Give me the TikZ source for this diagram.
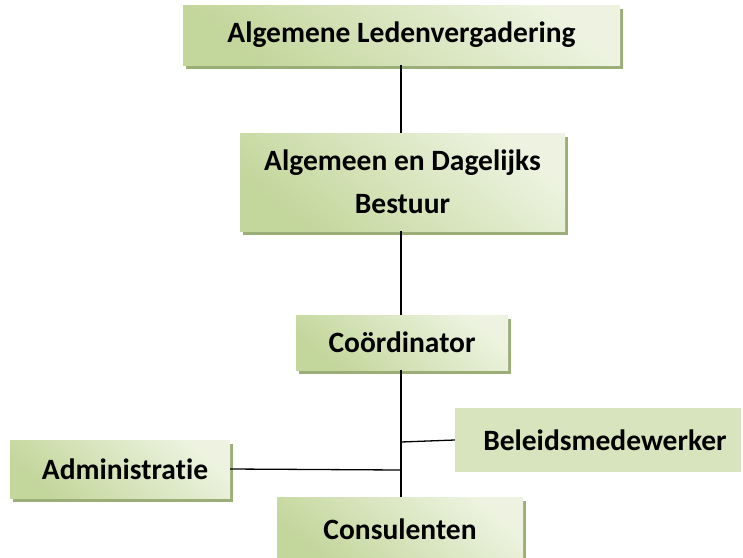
\documentclass[tikz,border=0pt]{standalone}
\usepackage{fontspec}
\setmainfont{Carlito}[Ligatures=NoCommon]
\usetikzlibrary{shadows}
\definecolor{gdark}{HTML}{C3D69B}
\definecolor{glight}{HTML}{EDF3E0}
\definecolor{gflat}{HTML}{D7E4BD}
\definecolor{gshadow}{HTML}{9CAE78}
\tikzset{
  orgbox/.style={rectangle, inner sep=0pt, align=center,
    font=\fontsize{29.5}{36}\selectfont\bfseries,
    left color=glight, middle color=glight, right color=gdark, shading angle=-40,
    general shadow={fill=gshadow, shadow xshift=3pt, shadow yshift=-4pt}},
  flatbox/.style={rectangle, inner sep=0pt, align=center, fill=gflat,
    font=\fontsize{29.5}{36}\selectfont\bfseries},
  link/.style={draw=black, line width=1.3pt}
}
\begin{document}
\begin{tikzpicture}[x=1pt,y=-1pt]
\useasboundingbox (0,0) rectangle (743,557);
\node[orgbox, minimum width=437pt, minimum height=60pt] (ALV) at (401.5,35) {Algemene Ledenvergadering};
\node[orgbox, minimum width=325pt, minimum height=98pt] (ADB) at (402.5,182) {Algemeen en Dagelijks\\[7pt]Bestuur};
\node[orgbox, minimum width=212pt, minimum height=55pt] (CO) at (402,342.5) {\raisebox{-2pt}{Coördinator}};
\node[flatbox, minimum width=286pt, minimum height=64pt] (BM) at (598,440) {\hspace*{14pt}Beleidsmedewerker};
\node[orgbox, minimum width=220pt, minimum height=58pt] (AD) at (120,469) {\hspace*{10pt}\raisebox{-2pt}{Administratie}};
\node[orgbox, minimum width=246pt, minimum height=66pt] (CN) at (400,530) {\raisebox{2pt}{Consulenten}};
\coordinate (J1) at (401,442);
\coordinate (J2) at (401,470);
\draw[link] (ALV.south -| 401,0) -- (ADB.north -| 401,0);
\draw[link] (ADB.south -| 401,0) -- (CO.north -| 401,0);
\draw[link] (CO.south -| 401,0) -- (CN.north -| 401,0);
\draw[link] (J1) -- (BM.west);
\draw[link] (AD.east) -- (J2);
\end{tikzpicture}
\end{document}
